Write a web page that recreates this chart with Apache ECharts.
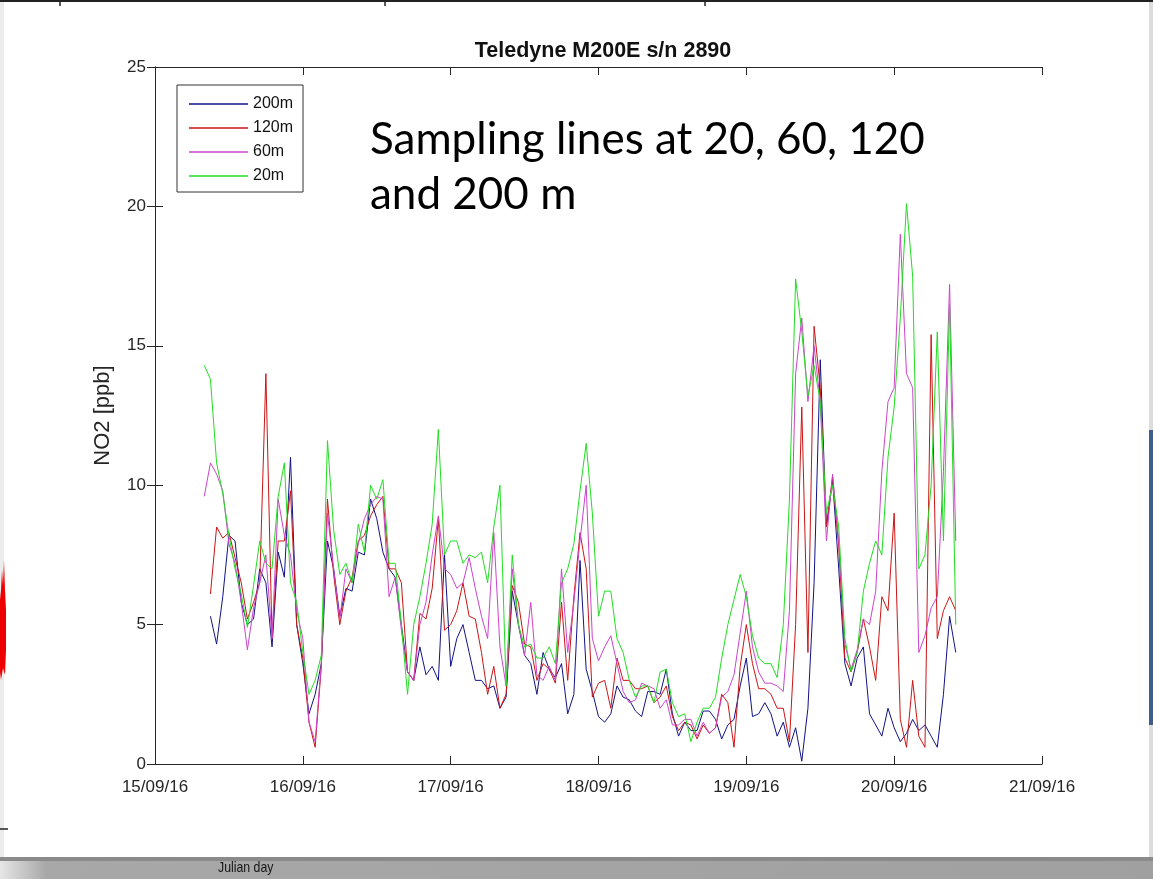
<!DOCTYPE html>
<html>
<head>
<meta charset="utf-8">
<script src="https://cdn.jsdelivr.net/npm/echarts@6/dist/echarts.min.js"></script>
<style>
html,body{margin:0;padding:0;background:#fff;}
#chart{width:1153px;height:879px;}
</style>
</head>
<body>
<div id="chart"></div>
<script>
// x tick labels (one per day, axis in hours from 15/09/16 00:00)
const dayLabels = ['15/09/16','16/09/16','17/09/16','18/09/16','19/09/16','20/09/16','21/09/16'];
// hourly samples, hour 8 .. hour 130
const hours = Array.from({length:123}, (_, i) => 8 + i);

const s200 = [
  null,5.3,4.3,6.0,8.2,8.0,5.8,5.0,5.2,7.0,6.5,4.2,
  7.6,6.7,11.0,5.0,3.6,1.8,2.5,3.6,8.0,7.0,5.3,6.3,
  6.2,7.6,7.5,9.5,8.8,7.6,7.0,6.7,5.0,3.3,3.0,4.2,
  3.2,3.5,3.0,7.5,3.5,4.5,5.0,4.0,3.0,3.0,2.7,2.8,
  2.0,2.4,6.2,5.0,3.9,3.6,2.5,4.0,3.4,3.1,3.6,1.8,
  2.5,7.3,3.4,2.6,1.7,1.5,1.8,2.8,2.4,2.3,1.9,1.7,
  2.6,2.6,2.5,3.4,1.8,1.0,1.5,1.2,1.2,1.9,1.9,1.6,
  0.9,1.4,1.6,2.8,3.8,1.7,1.8,2.2,1.8,1.0,1.5,0.6,
  1.3,0.1,2.0,6.5,14.5,8.5,10.2,7.0,3.6,2.8,3.8,4.2,
  1.8,1.4,1.0,2.0,1.3,0.8,1.1,1.6,1.2,1.4,1.0,0.6,
  2.5,5.3,4.0
];
const s120 = [
  null,6.1,8.5,8.1,8.3,7.4,6.5,5.2,5.8,6.5,14.0,4.5,
  8.0,8.0,9.8,5.0,3.8,1.5,0.6,3.5,9.5,6.8,5.0,6.2,
  6.7,8.0,8.2,8.9,9.3,9.6,7.0,7.0,6.5,3.3,3.0,5.4,
  5.2,6.3,8.8,4.8,5.0,5.5,6.5,5.3,5.2,4.0,2.5,3.5,
  2.0,2.5,6.4,5.8,4.3,4.2,3.0,3.6,3.4,2.9,5.8,3.0,
  6.0,8.3,7.0,2.4,2.9,3.0,2.0,3.8,3.0,3.0,2.7,2.7,
  2.8,2.2,2.4,2.8,1.7,1.2,1.5,1.4,0.9,1.4,1.1,1.3,
  2.5,2.2,0.6,3.5,5.0,3.6,2.7,2.7,2.5,2.0,2.0,0.8,
  5.0,12.8,4.0,15.7,13.5,8.5,10.3,7.8,3.8,3.3,4.0,5.2,
  4.2,3.0,6.0,5.5,9.0,1.6,0.6,3.0,1.0,0.6,15.4,4.5,
  5.5,6.0,5.5
];
const s60 = [
  9.6,10.8,10.4,9.8,7.9,7.2,5.8,4.1,5.6,6.5,7.5,4.5,
  9.5,8.2,7.5,5.5,4.5,1.5,0.8,3.6,9.0,7.0,5.2,7.0,
  6.5,7.9,8.8,9.3,9.6,9.5,6.0,6.7,4.8,3.3,3.0,5.0,
  5.8,7.5,8.9,7.0,6.8,6.3,6.5,7.4,6.3,5.3,4.5,8.3,
  4.2,2.8,7.0,5.0,3.9,5.8,3.2,3.0,3.5,3.0,7.0,4.0,
  5.8,8.0,10.0,4.5,3.7,4.2,4.6,3.6,2.6,2.2,2.3,2.9,
  2.8,2.7,2.0,2.3,1.4,1.4,1.6,1.6,1.0,1.5,1.1,1.3,
  2.4,2.6,3.2,4.7,6.2,4.2,3.3,2.9,2.9,2.8,2.6,5.5,
  14.0,16.0,13.0,15.0,13.0,8.0,10.4,8.0,4.3,3.4,4.1,5.2,
  5.0,6.2,10.5,13.0,13.5,19.0,14.0,13.5,4.0,4.6,5.6,6.0,
  10.5,17.2,8.0
];
const s20 = [
  14.3,13.8,10.8,9.7,8.2,7.0,6.1,4.9,6.4,8.0,7.2,7.0,
  9.6,10.8,6.5,5.8,4.0,2.5,3.0,3.9,11.6,8.4,6.8,7.2,
  6.5,8.6,7.6,10.0,9.5,10.2,7.2,7.2,5.0,2.5,5.0,6.0,
  7.2,8.6,12.0,7.5,8.0,8.0,7.2,7.5,7.4,7.6,6.5,8.5,
  10.0,2.8,7.5,5.0,4.2,4.3,3.8,3.8,4.2,3.6,6.5,7.0,
  7.9,9.8,11.5,9.0,5.3,6.2,6.2,4.5,4.0,3.0,2.4,2.8,
  2.8,2.2,3.3,3.4,2.2,1.7,1.8,0.8,1.5,2.0,2.0,2.4,
  3.8,5.0,5.9,6.8,6.0,4.6,3.8,3.6,3.6,3.1,5.0,9.5,
  17.4,15.5,13.2,14.3,13.0,9.0,10.0,8.5,4.5,3.3,4.0,6.2,
  7.2,8.0,7.5,11.0,12.8,16.0,20.1,17.5,7.0,7.5,10.0,15.5,
  8.0,16.5,5.0
];

const seriesNames = ['200m','120m','60m','20m'];
const seriesValues = [s200, s120, s60, s20];
const seriesColors = ['#12128a','#cc1414','#cc44cc','#22dd22'];

const chart = echarts.init(document.getElementById('chart'), null, {renderer:'canvas'});
const axisColor = '#262626';
const FONT = 'Liberation Sans, Arial, sans-serif';
const tickFont = {color:'#262626', fontSize:17, fontFamily:FONT};

const option = {
  backgroundColor:'#ffffff',
  animation:false,
  title:{
    text:'Teledyne M200E s/n 2890',
    left:598, top:35, textAlign:'center',
    textStyle:{fontFamily:FONT, fontWeight:'bold', fontSize:21.5, color:'#111'}
  },
  legend:{
    orient:'vertical', left:177, top:85,
    data:seriesNames.map((n, k) => ({name:n, icon:'rect', itemStyle:{color:seriesColors[k], borderWidth:0}})),
    itemWidth:59, itemHeight:1.5, itemGap:8,
    itemStyle:{borderWidth:0},
    padding:[11,10,8,12],
    borderColor:'#333', borderWidth:1, backgroundColor:'#fff',
    textStyle:{fontFamily:FONT, fontSize:16, color:'#111', lineHeight:16}
  },
  grid:{left:155, top:67, width:887, height:697, containLabel:false},
  xAxis:[
    {type:'value', min:0, max:144, interval:24, position:'bottom',
      axisLine:{show:true, onZero:false, lineStyle:{color:axisColor, width:1}},
      axisTick:{show:true, inside:true, length:8, lineStyle:{color:axisColor}},
      axisLabel:Object.assign({margin:15, formatter:(v)=>dayLabels[Math.round(v/24)]}, tickFont),
      splitLine:{show:false}},
    {type:'value', min:0, max:144, interval:24, position:'top',
      axisLine:{show:true, onZero:false, lineStyle:{color:axisColor, width:1}},
      axisTick:{show:true, inside:true, length:8, lineStyle:{color:axisColor}},
      axisLabel:{show:false}, splitLine:{show:false}}
  ],
  yAxis:[
    {type:'value', min:0, max:25, interval:5, position:'left',
      name:'NO2 [ppb]', nameLocation:'middle', nameGap:41,
      nameTextStyle:{fontFamily:FONT, fontSize:22, color:'#262626'},
      axisLine:{show:true, lineStyle:{color:axisColor, width:1}},
      axisTick:{show:true, inside:true, length:8, lineStyle:{color:axisColor}},
      axisLabel:Object.assign({margin:9}, tickFont),
      splitLine:{show:false}},
    {type:'value', min:0, max:25, interval:5, position:'right',
      axisLine:{show:true, lineStyle:{color:axisColor, width:1}},
      axisTick:{show:true, inside:true, length:8, lineStyle:{color:axisColor}},
      axisLabel:{show:false}, splitLine:{show:false}}
  ],
  series: seriesNames.map((name, k) => ({
    name:name, type:'line', xAxisIndex:0, yAxisIndex:0,
    data: hours.map((h, i) => [h, seriesValues[k][i]]),
    showSymbol:false, symbol:'none', connectNulls:false,
    lineStyle:{color:seriesColors[k], width:1},
    itemStyle:{color:seriesColors[k]},
    z: 2 + k
  })),
  graphic:[
    {type:'text', left:370, top:112, z:10,
      style:{text:'Sampling lines at 20, 60, 120\nand 200 m', fill:'#000',
        font:'44px Lato, "Open Sans", sans-serif', lineHeight:55}},
    // screenshot surroundings
    {type:'rect', shape:{x:0, y:857, width:1153, height:22}, z:0,
      style:{fill:new echarts.graphic.LinearGradient(0,0,1,0,[{offset:0,color:'#e6e6e6'},{offset:0.04,color:'#a8a8a8'},{offset:1,color:'#a0a0a0'}])}},
    {type:'rect', shape:{x:0, y:857, width:1153, height:4}, z:0, style:{fill:'#8a8a8a'}},
    {type:'text', x:218, y:860, scaleX:0.82, z:1,
      style:{text:'Julian day', fill:'#151515', font:'15px "Liberation Sans", sans-serif'}},
    {type:'rect', shape:{x:1149, y:0, width:4, height:857}, z:0, style:{fill:'#dcdcdc'}},
    {type:'rect', shape:{x:1149, y:430, width:4, height:295}, z:0, style:{fill:'#3e5f8e'}},
    {type:'rect', shape:{x:0, y:0, width:4, height:857}, z:0, style:{fill:'#ececec'}},
    {type:'polygon', z:0, shape:{points:[[0,600],[1,590],[2,570],[3,585],[4,560],[5,590],[6,610],[6,650],[5,675],[3,668],[1,680],[0,672]]}, style:{fill:'#ee0000'}},
    {type:'line', z:0, shape:{x1:0, y1:829, x2:8, y2:829}, style:{stroke:'#222', lineWidth:1.5}},
    {type:'line', z:0, shape:{x1:0, y1:1, x2:1153, y2:1}, style:{stroke:'#222', lineWidth:2}},
    {type:'line', z:0, shape:{x1:60, y1:0, x2:60, y2:6}, style:{stroke:'#222', lineWidth:1.5}},
    {type:'line', z:0, shape:{x1:385, y1:0, x2:385, y2:6}, style:{stroke:'#222', lineWidth:1.5}},
    {type:'line', z:0, shape:{x1:705, y1:0, x2:705, y2:6}, style:{stroke:'#222', lineWidth:1.5}}
  ]
};
chart.setOption(option);
</script>
</body>
</html>
